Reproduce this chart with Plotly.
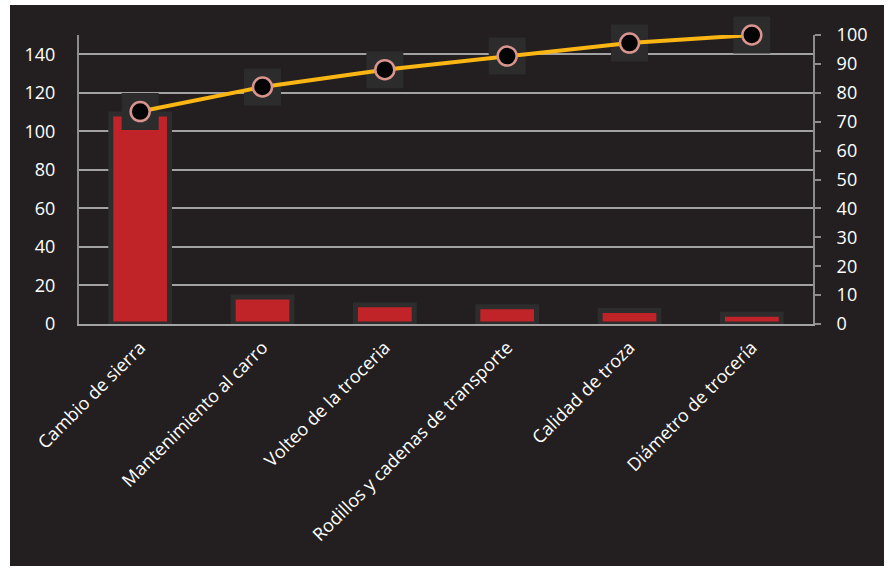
import plotly.graph_objects as go

# Pareto data: downtime causes (counts) and cumulative percentage
categories = [
    "Cambio de sierra",
    "Mantenimiento al carro",
    "Volteo de la troceria",
    "Rodillos y cadenas de transporte",
    "Calidad de troza",
    "Diámetro de trocería",
]
counts = [109, 14, 10, 9, 7, 5]
cumulative_pct = [73.5, 82, 88, 92.7, 97.2, 100]

left_ticks = [0, 20, 40, 60, 80, 100, 120, 140]
right_ticks = [0, 10, 20, 30, 40, 50, 60, 70, 80, 90, 100]

W, H = 890, 569
M = dict(l=79, r=77, t=35, b=245)
PW = W - M["l"] - M["r"]
PH = H - M["t"] - M["b"]


def px_x(x):
    return (x - M["l"]) / PW


def px_y(y):
    return (H - M["b"] - y) / PH


FONT = "Open Sans"
TXT = "#ffffff"

fig = go.Figure()

fig.add_trace(go.Bar(
    x=categories, y=counts, yaxis="y",
    width=0.48,
    marker=dict(color="#c02328", line=dict(color="#2d2d2e", width=5)),
    hoverinfo="x+y", showlegend=False,
))

# dark square backdrops behind the cumulative markers
fig.add_trace(go.Scatter(
    x=categories, y=cumulative_pct, yaxis="y2", mode="markers",
    marker=dict(symbol="square", size=37, color="#2c2c2d", line=dict(width=0)),
    hoverinfo="skip", showlegend=False, cliponaxis=False,
))

fig.add_trace(go.Scatter(
    x=categories, y=cumulative_pct, yaxis="y2", mode="lines+markers",
    line=dict(color="#fbb614", width=4),
    marker=dict(symbol="circle", size=19, color="#050505",
                line=dict(color="#d8958e", width=2.5)),
    showlegend=False, cliponaxis=False,
))

fig.update_layout(
    width=W, height=H,
    margin=M,
    paper_bgcolor="#ffffff",
    plot_bgcolor="#636467",
    font=dict(family=FONT, size=18, color=TXT),
    bargap=0.3,
    xaxis=dict(
        type="category", tickangle=-45, showgrid=False,
        showline=True, linecolor="#a3a3a4", linewidth=2,
        ticks="outside", ticklen=4, tickcolor="rgba(0,0,0,0)",
        tickfont=dict(size=18, color=TXT),
        range=[-0.5, len(categories) - 0.5],
    ),
    yaxis=dict(
        range=[0, 150], tickvals=left_ticks, showgrid=True,
        gridcolor="#a2a2a3", gridwidth=2, zeroline=False,
        showline=True, linecolor="#8d8d8e", linewidth=2,
        ticks="outside", ticklen=18, tickcolor="rgba(0,0,0,0)",
        tickfont=dict(size=18, color=TXT),
    ),
    yaxis2=dict(
        range=[0, 100], tickvals=right_ticks, overlaying="y", side="right",
        showgrid=False, zeroline=False,
        showline=True, linecolor="#8d8d8e", linewidth=2,
        ticks="outside", ticklen=6, tickcolor="#8d8d8e", tickwidth=2,
        ticklabelstandoff=12,
        tickfont=dict(size=18, color=TXT),
    ),
    shapes=[dict(
        type="rect", xref="paper", yref="paper", layer="below",
        x0=px_x(10), x1=px_x(884), y0=px_y(566), y1=px_y(5),
        fillcolor="#231f20", line=dict(width=0),
    )],
)

fig.write_html("out.html")
